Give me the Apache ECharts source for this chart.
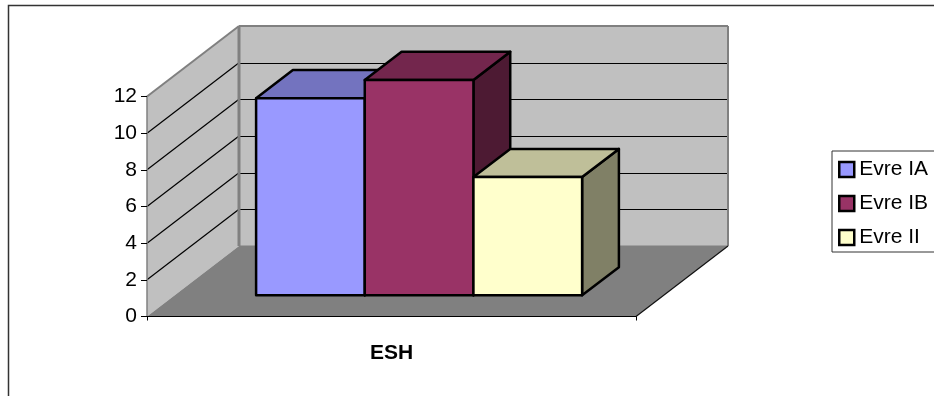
<!DOCTYPE html>
<html>
<head>
<meta charset="utf-8">
<style>html,body{margin:0;padding:0;background:#fff}#chart{width:934px;height:396px}</style>
<script src="https://cdn.jsdelivr.net/npm/echarts@6/dist/echarts.min.js"></script>
</head>
<body>
<div id="chart"></div>
<script>
// Chart data
var categories = ['ESH'];
var evreIA = [10.75];
var evreIB = [11.75];
var evreII = [6.45];
var seriesNames = ['Evre IA', 'Evre IB', 'Evre II'];
var gridValues = [2, 4, 6, 8, 10];

// Oblique projection: how far the back of the floor sits from the front plane
var DEPTH = [92, -70.5];
var BAR_NEAR = 0.3, BAR_FAR = 0.7, GAP_WIDTH = 1.5;

function project(api, cat, offset, value, depth) {
  var c = api.coord([cat, value]);
  var band = api.size([1, 0])[0];
  return [c[0] + offset * band + depth * DEPTH[0], c[1] + depth * DEPTH[1]];
}

function renderBackdrop(params, api) {
  var p = function (side, value, depth) { return project(api, 0, side * 0.5, value, depth); };
  var yMax = 12;
  var kids = [];
  var poly = function (pts, fill) {
    kids.push({ type: 'polygon', shape: { points: pts }, style: { fill: fill, stroke: null } });
  };
  var line = function (a, b, color, width) {
    kids.push({ type: 'line', shape: { x1: a[0], y1: a[1], x2: b[0], y2: b[1] },
      style: { stroke: color, lineWidth: width, fill: null } });
  };
  // Horizontal hairlines stay on a whole pixel row so they render solid
  var crisp = function (pt) { return [pt[0], Math.round(pt[1]) + 0.5]; };
  // Side wall, back wall and floor
  poly([p(-1, 0, 0), p(-1, yMax, 0), p(-1, yMax, 1), p(-1, 0, 1)], '#c0c0c0');
  poly([p(-1, 0, 1), p(-1, yMax, 1), p(1, yMax, 1), p(1, 0, 1)], '#c0c0c0');
  poly([p(-1, 0, 0), p(-1, 0, 1), p(1, 0, 1), p(1, 0, 0)], '#808080');
  // Gridlines wrap from the side wall onto the back wall
  gridValues.forEach(function (v) {
    line(p(-1, v, 0), p(-1, v, 1), '#000', 1.2);
    line(crisp(p(-1, v, 1)), crisp(p(1, v, 1)), '#000', 1);
  });
  // Wall outlines
  line(p(-1, 0, 0), p(-1, yMax, 0), '#808080', 1.5);
  line(p(-1, yMax, 0), p(-1, yMax, 1), '#808080', 2);
  line(p(-1, yMax, 1), p(1, yMax, 1), '#808080', 2);
  line(p(-1, yMax, 1), p(-1, 0, 1), '#808080', 3);
  line(p(1, yMax, 1), p(1, 0, 1), '#808080', 2);
  line(p(-1, 0, 1), p(1, 0, 1), '#808080', 1);
  line(p(1, 0, 0), p(1, 0, 1), '#111', 1.2);
  return { type: 'group', children: kids };
}

function barRenderer(slot, faces) {
  return function (params, api) {
    var cat = api.value(0), val = api.value(1);
    var unit = 1 / (seriesNames.length + GAP_WIDTH);
    var l = (slot - seriesNames.length / 2) * unit, r = l + unit;
    var pt = function (o, v, d) { return project(api, cat, o, v, d); };
    var face = function (pts, fill) {
      return { type: 'polygon', shape: { points: pts },
        style: { fill: fill, stroke: '#000', lineWidth: 2.5, lineJoin: 'round' } };
    };
    return { type: 'group', children: [
      face([pt(r, 0, BAR_NEAR), pt(r, val, BAR_NEAR), pt(r, val, BAR_FAR), pt(r, 0, BAR_FAR)], faces.side),
      face([pt(l, val, BAR_NEAR), pt(l, val, BAR_FAR), pt(r, val, BAR_FAR), pt(r, val, BAR_NEAR)], faces.top),
      face([pt(l, 0, BAR_NEAR), pt(l, val, BAR_NEAR), pt(r, val, BAR_NEAR), pt(r, 0, BAR_NEAR)], faces.front)
    ] };
  };
}

var palette = [
  { front: '#9999ff', top: '#7373bf', side: '#4d4d80' },
  { front: '#993366', top: '#73264d', side: '#4d1a33' },
  { front: '#ffffcc', top: '#bfbf99', side: '#808066' }
];
var seriesValues = [evreIA, evreIB, evreII];

var FONT = '"Liberation Sans", Arial, sans-serif';

var series = [{
  type: 'custom', name: 'backdrop', silent: true, z: 1,
  renderItem: renderBackdrop, data: [[0, 0]], encode: { x: 0, y: 1 }
}];
seriesNames.forEach(function (name, i) {
  series.push({
    type: 'custom', name: name, silent: true, z: 2 + i,
    itemStyle: { color: palette[i].front },
    renderItem: barRenderer(i, palette[i]),
    data: seriesValues[i].map(function (v, k) { return [k, v]; }),
    encode: { x: 0, y: 1 }
  });
});

var chart = echarts.init(document.getElementById('chart'), null, { renderer: 'canvas' });
chart.setOption({
  animation: false,
  backgroundColor: '#fff',
  grid: { left: 147, top: 96.5, width: 489, height: 220, containLabel: false },
  xAxis: {
    type: 'category', data: categories, z: 10,
    axisLine: { lineStyle: { color: '#000', width: 1 } },
    axisTick: { show: true, length: 4, lineStyle: { color: '#000' } },
    axisLabel: { margin: 26, fontFamily: FONT, fontSize: 21, fontWeight: 'bold', color: '#000' }
  },
  yAxis: {
    type: 'value', min: 0, max: 12, interval: 2, z: 10,
    splitLine: { show: false },
    axisLine: { show: false },
    axisTick: { show: true, length: 6, lineStyle: { color: '#000' } },
    axisLabel: { margin: 10, padding: [2, 0, 0, 0], fontFamily: FONT, fontSize: 21, color: '#000' }
  },
  legend: {
    orient: 'vertical', left: 832, top: 151, align: 'left',
    data: seriesNames.map(function (name, i) {
      return { name: name, icon: 'rect',
        itemStyle: { color: palette[i].front, borderColor: '#000', borderWidth: 2.5 } };
    }),
    itemWidth: 15, itemHeight: 15, itemGap: 13,
    padding: [8, 30, 4, 6],
    borderColor: '#333', borderWidth: 1, backgroundColor: '#fff',
    selectedMode: false,
    textStyle: { fontFamily: FONT, fontSize: 21, color: '#000' }
  },
  // Outer chart frame, open past the right and bottom of the canvas
  graphic: [{
    type: 'rect', silent: true, z: 0,
    shape: { x: 8.5, y: 5.5, width: 1200, height: 800 },
    style: { fill: null, stroke: '#333', lineWidth: 1.5 }
  }],
  series: series
});
</script>
</body>
</html>
